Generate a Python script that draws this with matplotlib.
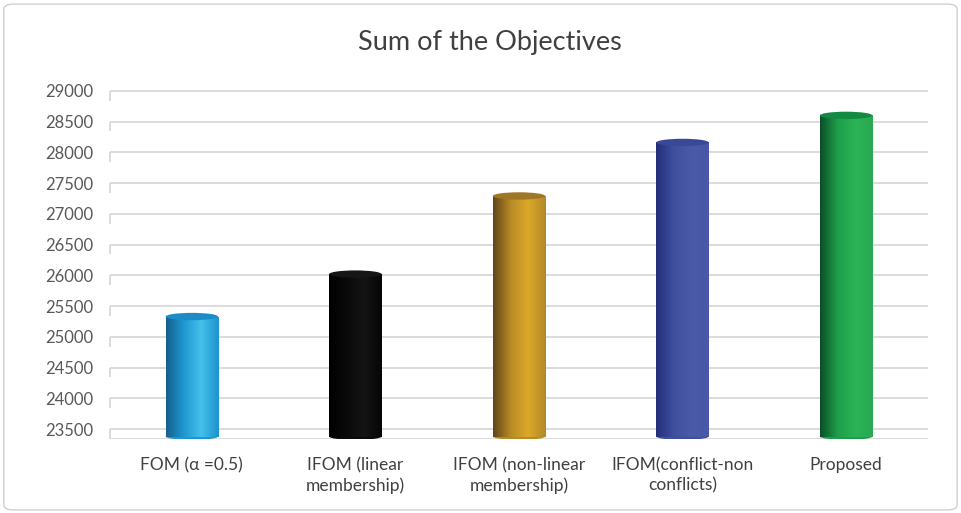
import matplotlib.pyplot as plt
import numpy as np
from matplotlib.colors import LinearSegmentedColormap
from matplotlib.patches import Ellipse, FancyBboxPatch

categories = ['FOM (α =0.5)', 'IFOM (linear\nmembership)', 'IFOM (non-linear\nmembership)',
              'IFOM(conflict-non\nconflicts)', 'Proposed']
values = [25330, 26020, 27290, 28160, 28600]
yticks = list(range(23500, 29001, 500))

# gradient stops (left edge -> right edge) and top cap colour per cylinder
shades = [
    (['#155f8c', '#1f97d0', '#45c0ec', '#1c92cc'], '#1b8cc8'),
    (['#000000', '#0a0a0a', '#141414', '#050505'], '#161616'),
    (['#5e4418', '#b88a26', '#dca92a', '#b38828'], '#9e7826'),
    (['#232e78', '#3f4f9e', '#4a5aa8', '#4858a6'], '#3a4898'),
    (['#0a4f28', '#1f9e4a', '#2bb456', '#2aa852'], '#138a42'),
]

plt.rcParams['font.family'] = ['Lato', 'DejaVu Sans']

fig = plt.figure(figsize=(9.61, 5.13), dpi=100)
frame = FancyBboxPatch((0.004, 0.006), 0.992, 0.986, boxstyle='round,pad=0,rounding_size=0.01',
                       transform=fig.transFigure, facecolor='white', edgecolor='#d0d0d0', lw=1, zorder=-10)
fig.patches.append(frame)
ax = fig.add_axes([0.1145, 0.1443, 0.851, 0.6803])
ax.patch.set_alpha(0)

# back wall gridlines with the little 3d drop on the left
for y in yticks:
    ax.axhline(y, color='#d9d9d9', lw=1.3, zorder=0)
    ax.vlines(-0.5, y - 160, y, color='#d9d9d9', lw=1.3, zorder=0, clip_on=False)
ax.axhline(23340, color='#d9d9d9', lw=1.3, zorder=0)

x = np.arange(len(categories))
w = 0.32
grad = np.linspace(0, 1, 256).reshape(1, -1)
for i, (v, (stops, cap)) in enumerate(zip(values, shades)):
    bar = ax.bar(x[i], v - 23380, bottom=23380, width=w, color='none', zorder=2)[0]
    cmap = LinearSegmentedColormap.from_list('c%d' % i, stops)
    im = ax.imshow(grad, cmap=cmap, aspect='auto', zorder=2,
                   extent=(x[i] - w / 2, x[i] + w / 2, 23380, v), interpolation='bicubic')
    im.set_clip_path(bar)
    # rounded base and top cap
    ax.add_patch(Ellipse((x[i], 23380), w, 110, facecolor=stops[1], edgecolor='none', zorder=1.9))
    ax.add_patch(Ellipse((x[i], v), w, 120, facecolor=cap, edgecolor='none', zorder=3))

ax.set_xlim(-0.5, len(categories) - 0.5)
ax.set_ylim(23340, 29013)
ax.set_yticks(yticks)
ax.set_xticks(x)
ax.set_xticklabels(categories, fontsize=12.5, color='#404040', linespacing=1.35)
ax.tick_params(axis='y', labelsize=12, labelcolor='#595959', length=0, pad=12)
ax.tick_params(axis='x', length=0, pad=13)
for s in ax.spines.values():
    s.set_visible(False)

fig.text(0.51, 0.918, 'Sum of the Objectives', ha='center', va='center', fontsize=19.5, color='#404040')

plt.savefig('out.png', dpi=100)
